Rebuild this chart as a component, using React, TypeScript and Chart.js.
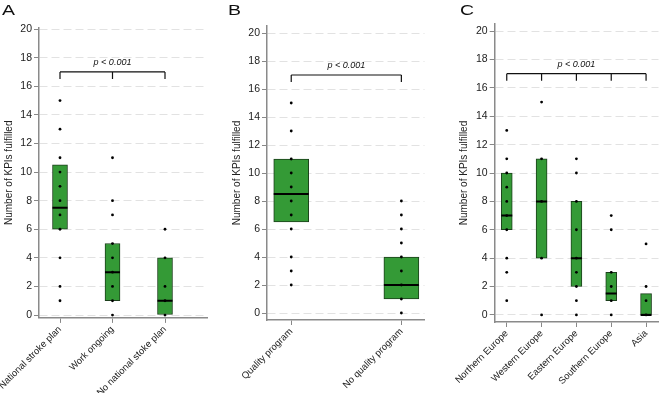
import React, { useEffect, useRef } from 'react';
import { Chart, registerables } from 'chart.js';

Chart.register(...registerables);

const FONT = '"Liberation Sans", Arial, Helvetica, sans-serif';

// ---------- Data ----------
const yTicks = [0, 2, 4, 6, 8, 10, 12, 14, 16, 18, 20];
const yTitle = 'Number of KPIs fulfilled';
const pLabel = 'p < 0.001';

// Panel A
const catsA = ['National stroke plan', 'Work ongoing', 'No national stoke plan'];
const q1A = [6, 1, 0];
const medA = [7.5, 3, 1];
const q3A = [10.5, 5, 4];
const ptsA = [
  [15, 13, 11, 10, 9, 8, 7, 6, 4, 2, 1],
  [11, 8, 7, 5, 4, 3, 2, 1, 0],
  [6, 4, 2, 1, 0],
];

// Panel B
const catsB = ['Quality program', 'No quality program'];
const q1B = [6.5, 1];
const medB = [8.5, 2];
const q3B = [11, 4];
const ptsB = [
  [15, 13, 11, 10, 9, 8, 7, 6, 4, 3, 2],
  [8, 7, 6, 5, 4, 3, 2, 1, 0],
];

// Panel C
const catsC = ['Northern Europe', 'Western Europe', 'Eastern Europe', 'Southern Europe', 'Asia'];
const q1C = [6, 4, 2, 1, 0];
const medC = [7, 8, 4, 1.5, 0];
const q3C = [10, 11, 8, 3, 1.5];
const ptsC = [
  [13, 11, 10, 9, 8, 7, 6, 4, 3, 1],
  [15, 11, 8, 4, 0],
  [11, 10, 8, 6, 4, 3, 2, 1, 0],
  [7, 6, 3, 2, 1, 0],
  [5, 2, 1, 0],
];

const bracketLevel = 17;

// ---------- Layout configs ----------
const W = 222;
const H = 393;

type PanelCfg = {
  letter: string;
  offset: number;
  letterX: number;
  cats: string[];
  q1: number[];
  med: number[];
  q3: number[];
  pts: number[][];
  left: number;
  right: number;
  top: number;
  bottom: number;
  xMin: number;
  xMax: number;
  yMin: number;
  yMax: number;
  barW: number;
  titlePad: number;
};

const panels: PanelCfg[] = [
  {
    letter: 'A', offset: 0, letterX: 2,
    cats: catsA, q1: q1A, med: medA, q3: q3A, pts: ptsA,
    left: 39, right: 207, top: 27.6, bottom: 317.9,
    xMin: 0.6, xMax: 3.8, yMin: -0.2, yMax: 20.1, barW: 15, titlePad: 3.5,
  },
  {
    letter: 'B', offset: 222, letterX: 228,
    cats: catsB, q1: q1B, med: medB, q3: q3B, pts: ptsB,
    left: 45, right: 213, top: 26, bottom: 320,
    xMin: 0.78, xMax: 2.21, yMin: -0.5, yMax: 20.5, barW: 35, titlePad: 9,
  },
  {
    letter: 'C', offset: 444, letterX: 460,
    cats: catsC, q1: q1C, med: medC, q3: q3C, pts: ptsC,
    left: 50.7, right: 222, top: 24, bottom: 322,
    xMin: 0.654, xMax: 5.357, yMin: -0.5, yMax: 20.5, barW: 11, titlePad: 14,
  },
];

const bracketPlugin = {
  id: 'bracket',
  afterDatasetsDraw(chart: any, _args: any, opts: any) {
    const { ctx } = chart;
    const x = chart.scales.x;
    const y = chart.scales.y;
    const positions: number[] = opts.positions || [];
    if (!positions.length) return;
    const yb = y.getPixelForValue(opts.level);
    const yt = y.getPixelForValue(opts.level - 0.5);
    const x0 = x.getPixelForValue(positions[0]);
    const x1 = x.getPixelForValue(positions[positions.length - 1]);
    ctx.save();
    ctx.strokeStyle = '#111';
    ctx.lineWidth = 1.2;
    ctx.beginPath();
    ctx.moveTo(x0, yb);
    ctx.lineTo(x1, yb);
    positions.forEach((p) => {
      const px = x.getPixelForValue(p);
      ctx.moveTo(px, yb);
      ctx.lineTo(px, yt);
    });
    ctx.stroke();
    ctx.font = `italic 9px ${FONT}`;
    ctx.fillStyle = '#111';
    ctx.textAlign = 'center';
    ctx.textBaseline = 'bottom';
    ctx.fillText(opts.text, (x0 + x1) / 2, yb - 5);
    ctx.restore();
  },
};

function Panel({ cfg }: { cfg: PanelCfg }) {
  const ref = useRef<HTMLCanvasElement>(null);

  useEffect(() => {
    const c = cfg;
    const boxData = c.cats.map((_, i) => ({ x: i + 1, y: [c.q1[i], c.q3[i]] }));
    const medData = c.cats.map((_, i) => ({ x: i + 1, y: c.med[i] }));
    const ptData = c.pts.flatMap((arr, i) => arr.map((v) => ({ x: i + 1, y: v })));
    const positions = c.cats.map((_, i) => i + 1);

    const chart = new Chart(ref.current as HTMLCanvasElement, {
      type: 'bar',
      data: {
        datasets: [
          {
            type: 'bar',
            data: boxData as any,
            backgroundColor: '#349a36',
            borderColor: '#1c3f1c',
            borderWidth: 1,
            borderSkipped: false,
            barThickness: c.barW,
            order: 3,
          } as any,
          {
            type: 'scatter',
            data: medData,
            pointStyle: 'line',
            pointRadius: c.barW / 2,
            pointBorderColor: '#000',
            pointBorderWidth: 2,
            showLine: false,
            order: 2,
          } as any,
          {
            type: 'scatter',
            data: ptData,
            pointRadius: 1.4,
            pointBackgroundColor: '#000',
            pointBorderColor: '#000',
            pointBorderWidth: 0,
            showLine: false,
            order: 1,
          } as any,
        ],
      },
      options: {
        animation: false,
        responsive: false,
        maintainAspectRatio: false,
        events: [],
        layout: { padding: { left: 0, top: c.top, right: W - c.right, bottom: 0 } },
        plugins: {
          legend: { display: false },
          tooltip: { enabled: false },
          bracket: { positions, level: bracketLevel, text: pLabel },
        } as any,
        scales: {
          x: {
            type: 'linear',
            offset: false,
            min: c.xMin,
            max: c.xMax,
            afterBuildTicks: (s: any) => {
              s.ticks = positions.map((v) => ({ value: v }));
            },
            afterFit: (s: any) => {
              s.height = H - c.bottom;
              s.paddingLeft = 0;
              s.paddingRight = 0;
            },
            ticks: {
              autoSkip: false,
              minRotation: 45,
              maxRotation: 45,
              padding: 1,
              color: '#222',
              font: { size: 9.5, family: FONT },
              callback: (v: any) => c.cats[Math.round(Number(v)) - 1] ?? '',
            },
            grid: {
              offset: false,
              drawOnChartArea: false,
              drawTicks: true,
              tickLength: 5,
              tickColor: '#888',
              tickWidth: 1,
            },
            border: { color: '#8a8a8a', width: 1.5 },
          } as any,
          y: {
            type: 'linear',
            min: c.yMin,
            max: c.yMax,
            afterBuildTicks: (s: any) => {
              s.ticks = yTicks.map((v) => ({ value: v }));
            },
            afterFit: (s: any) => {
              s.width = c.left;
              s.paddingTop = 0;
              s.paddingBottom = 0;
            },
            ticks: {
              padding: 2,
              color: '#222',
              font: { size: 10.5, family: FONT },
            },
            grid: {
              color: '#e2e2e2',
              lineWidth: 1,
              tickColor: '#888',
              tickLength: 5,
              tickWidth: 1,
              tickBorderDash: [],
            },
            border: { color: '#8a8a8a', width: 1.5, dash: [8, 4] },
            title: {
              display: true,
              text: yTitle,
              color: '#222',
              font: { size: 10, family: FONT },
              padding: { top: c.titlePad, bottom: 0 },
            },
          } as any,
        },
      },
      plugins: [bracketPlugin as any],
    });
    return () => chart.destroy();
  }, [cfg]);

  return (
    <div style={{ position: 'absolute', left: cfg.offset, top: 0, width: W, height: H }}>
      <canvas ref={ref} width={W} height={H} style={{ width: W, height: H, display: 'block' }} />
    </div>
  );
}

export default function App() {
  return (
    <div
      style={{
        position: 'absolute',
        left: 0,
        top: 0,
        width: 666,
        height: 393,
        background: '#fff',
        overflow: 'hidden',
      }}
    >
      {panels.map((p) => (
        <Panel key={p.letter} cfg={p} />
      ))}
      {panels.map((p) => (
        <div
          key={'L' + p.letter}
          style={{
            position: 'absolute',
            left: p.letterX,
            top: 2,
            fontFamily: FONT,
            fontSize: 15,
            lineHeight: '15px',
            color: '#111',
            transform: 'scaleX(1.3)',
            transformOrigin: 'left top',
          }}
        >
          {p.letter}
        </div>
      ))}
    </div>
  );
}
